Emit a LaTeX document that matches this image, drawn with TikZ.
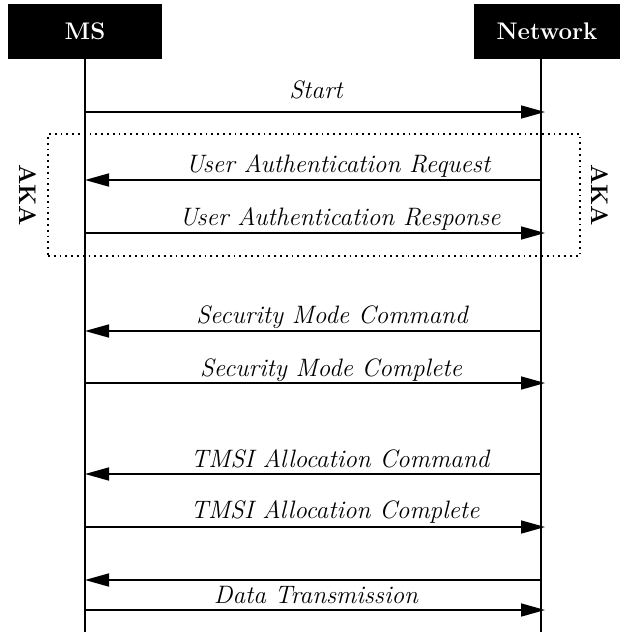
\documentclass[tikz,border=0pt]{standalone}
\usetikzlibrary{arrows.meta,positioning}

\begin{document}
\begin{tikzpicture}[x=0.5pt,y=-0.5pt,
  actor/.style={fill=black,text=white,font=\large\bfseries,minimum height=27.5pt,inner sep=0pt},
  life/.style={line width=0.8pt},
  msg/.style={line width=0.8pt,-{Triangle[length=12pt,width=6.5pt]}},
  tonet/.style={msg,shorten >=-2pt},
  lbl/.style={font=\fontsize{12.6}{15}\selectfont\itshape,anchor=base,inner sep=0pt},
  akabox/.style={draw,dotted,line width=0.9pt,inner sep=0pt},
  akalbl/.style={font=\large\bfseries,rotate=-90}]
\useasboundingbox (0,0) rectangle (620,632);
\node[actor,minimum width=77pt] (ms) at (85,31.5) {MS};
\node[actor,minimum width=73pt] (net) at (547,31.5) {Network};
\coordinate (msTop) at (85,59);
\coordinate (msEnd) at (85,632);
\coordinate (netTop) at (541,59);
\coordinate (netEnd) at (541,632);
\draw[life] (msTop) -- (msEnd);
\draw[life] (netTop) -- (netEnd);
% AKA group
\node[akabox,minimum width=266pt,minimum height=61pt] (aka) at (314,195) {};
\node[akalbl] (akaL) at (28,195) {AKA};
\node[akalbl] (akaR) at (600,195) {AKA};
% message ends on both lifelines
\foreach \i/\y in {1/112,2/180,3/233,4/331,5/383,6/474,7/527,8/580,9/610} {
  \coordinate (ms\i) at (85,\y);
  \coordinate (net\i) at (541,\y);
}
\draw[tonet] (ms1) -- (net1);
\draw[msg] (net2) -- (ms2);
\draw[tonet] (ms3) -- (net3);
\draw[msg] (net4) -- (ms4);
\draw[tonet] (ms5) -- (net5);
\draw[msg] (net6) -- (ms6);
\draw[tonet] (ms7) -- (net7);
\draw[msg] (net8) -- (ms8);
\draw[tonet] (ms9) -- (net9);
\node[lbl] (start) at (316,98) {Start};
\node[lbl] (uareq) at (338,172) {User Authentication Request};
\node[lbl] (uares) at (340,225) {User Authentication Response};
\node[lbl] (smcmd) at (332,323) {Security Mode Command};
\node[lbl] (smcpl) at (331,376) {Security Mode Complete};
\node[lbl] (tmcmd) at (340,467) {TMSI Allocation Command};
\node[lbl] (tmcpl) at (335,518) {TMSI Allocation Complete};
\node[lbl] (data) at (316,603) {Data Transmission};
\end{tikzpicture}
\end{document}
